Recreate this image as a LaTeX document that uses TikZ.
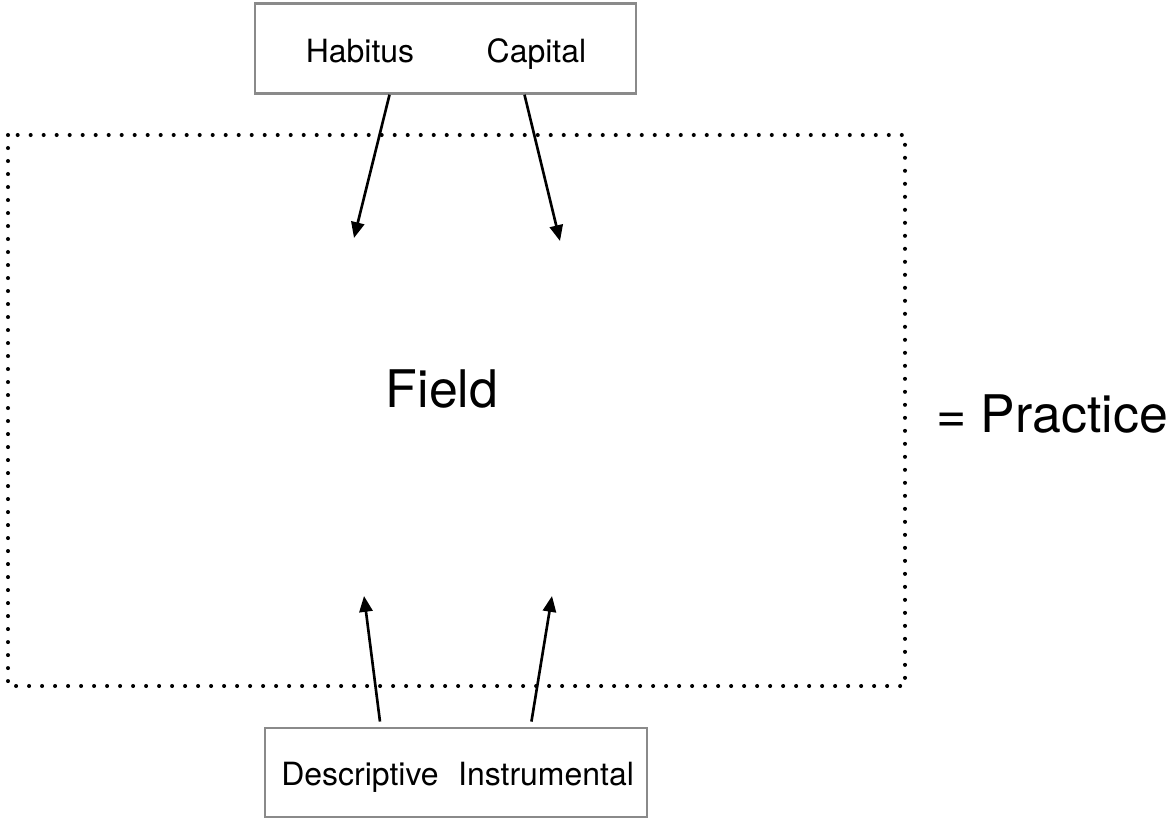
\documentclass[tikz,border=0pt]{standalone}
\usepackage{fontspec}
\setmainfont{TeX Gyre Heros}
\usetikzlibrary{positioning,calc,arrows.meta}
\definecolor{boxgray}{HTML}{8A8A8A}

\begin{document}
\begin{tikzpicture}[x=0.02cm,y=-0.02cm,
  box/.style = {draw=boxgray, line width=1.4pt, minimum width=381*0.02cm, minimum height=90*0.02cm},
  small/.style = {font=\fontsize{18.2}{20}\selectfont, anchor=base, inner sep=0pt},
  big/.style = {font=\fontsize{29.5}{32}\selectfont, anchor=base, inner sep=0pt},
  arr/.style = {line width=1.5pt, -{Triangle[length=9pt,width=7.5pt]}}]
\useasboundingbox (0,0) rectangle (1171,819);

% the field
\draw[line width=2.3pt, line cap=round, dash pattern=on 0pt off 7.4pt] (8,135) rectangle (905,686);
\node[big] (field) at (442,407) {Field};
\node[big] (practice) at (1052,432) {= Practice};

% top box
\node[box] (top) at (445.5,48.5) {};
\node[small] (habitus) at (360,62) {Habitus};
\node[small] (capital) at (536.5,62) {Capital};
\coordinate (h1) at (354,238);
\coordinate (c1) at (560,241);
\draw[arr] ($(top.south west)!0.354!(top.south east)$) -- (h1);
\draw[arr] ($(top.south west)!0.706!(top.south east)$) -- (c1);

% bottom box
\node[box, minimum width=382*0.02cm, minimum height=89*0.02cm] (bottom) at (456,772.5) {};
\node[small] (desc) at (360,785) {Descriptive};
\node[small] (instr) at (546,785) {Instrumental};
\coordinate (d1) at (364,596);
\coordinate (i1) at (552,596);
\draw[arr, shorten <=3pt] ($(bottom.north west)!0.304!(bottom.north east)$) -- (d1);
\draw[arr, shorten <=3pt] ($(bottom.north west)!0.694!(bottom.north east)$) -- (i1);
\end{tikzpicture}
\end{document}
